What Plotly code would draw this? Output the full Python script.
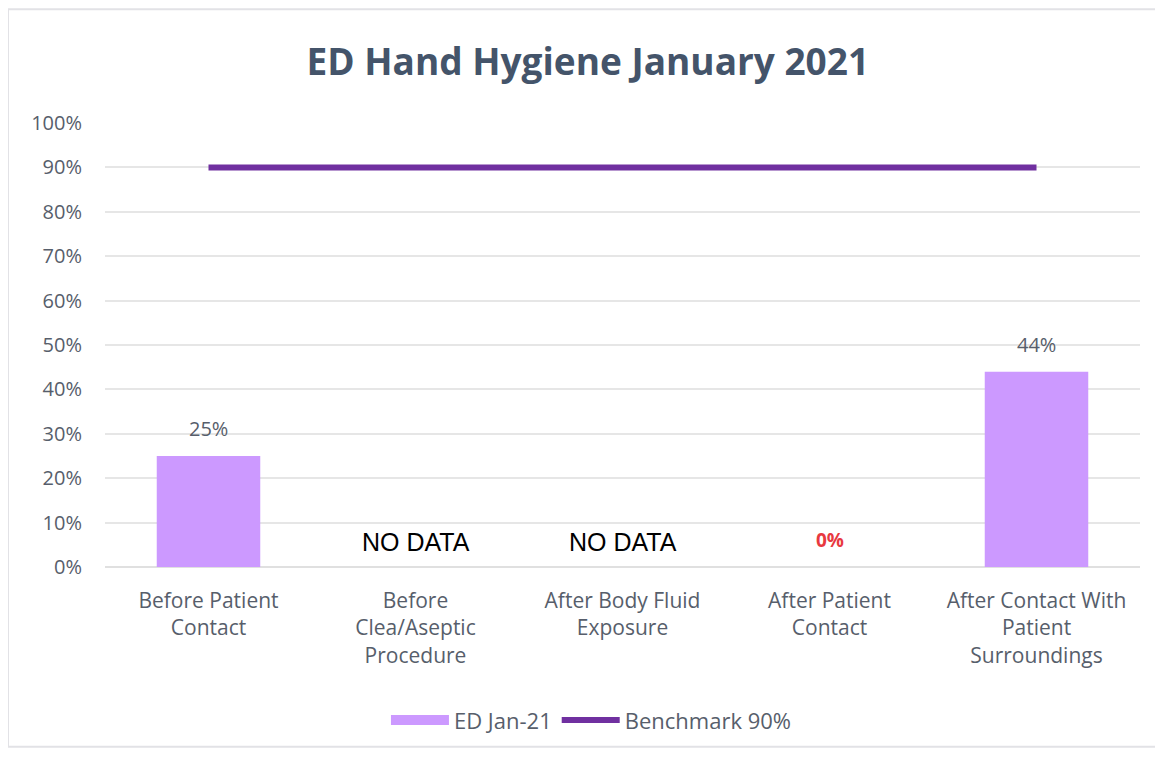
import plotly.graph_objects as go

categories = ["Before Patient<br>Contact", "Before<br>Clea/Aseptic<br>Procedure",
              "After Body Fluid<br>Exposure", "After Patient<br>Contact",
              "After Contact With<br>Patient<br>Surroundings"]
ed_values = [0.25, None, None, 0.0, 0.44]
benchmark = [0.90, 0.90, 0.90, 0.90, 0.90]
data_labels = ["25%", "NO DATA", "NO DATA", "0%", "44%"]
label_colors = ["#575E6B", "#000000", "#000000", "#E8393F", "#575E6B"]
y_ticks = [i / 10 for i in range(11)]
y_ticktext = [f"{i * 10}%" for i in range(11)]

x_idx = list(range(len(categories)))
BAR_COLOR = "#CC99FF"
LINE_COLOR = "#7030A0"
TXT = "#575E6B"

fig = go.Figure()
fig.add_trace(go.Bar(
    x=x_idx, y=ed_values, name="ED Jan-21",
    marker=dict(color=BAR_COLOR, line=dict(width=0)),
    width=0.5, showlegend=False,
))
# legend-only entry drawn as a wide swatch, like the original's rectangle key
fig.add_trace(go.Scatter(
    x=[None], y=[None], name="ED Jan-21", mode="lines",
    line=dict(color=BAR_COLOR, width=15),
))
fig.add_trace(go.Scatter(
    x=x_idx, y=benchmark, name="Benchmark 90%", mode="lines",
    line=dict(color=LINE_COLOR, width=6),
))

for i, (lab, col, v) in enumerate(zip(data_labels, label_colors, ed_values)):
    base = v if v is not None else 0
    if v is None:
        fnt = dict(family="Liberation Sans", size=25, color=col)
        ys = 9
    elif lab == "0%":
        fnt = dict(family="Open Sans", size=19, color=col, weight="bold")
        ys = 12
    else:
        fnt = dict(family="Open Sans", size=20, color=col)
        ys = 12
    fig.add_annotation(
        x=i, y=base, text=lab, showarrow=False, xref="x", yref="y",
        yanchor="bottom", yshift=ys, font=fnt,
    )

fig.update_layout(
    width=1155, height=750,
    margin=dict(l=97, r=23, t=115, b=191),
    paper_bgcolor="white", plot_bgcolor="white",
    title=dict(text="<b>ED Hand Hygiene January 2021</b>", x=0.502, xanchor="center",
               xref="container", y=0.928, yanchor="middle",
               font=dict(family="Open Sans", size=37, color="#44546A")),
    showlegend=True,
    legend=dict(orientation="h", x=0.47, xanchor="center", y=-0.345, yanchor="middle",
                font=dict(family="Open Sans", size=22, color=TXT),
                itemwidth=58, traceorder="normal", tracegroupgap=0),
    font=dict(family="Open Sans", color=TXT),
)
fig.update_xaxes(
    tickmode="array", tickvals=x_idx, ticktext=categories,
    range=[-0.5, len(categories) - 0.5],
    showgrid=False, showline=False, zeroline=False, ticks="",
    tickfont=dict(family="Open Sans", size=21, color=TXT), ticklabelstandoff=19,
)
fig.update_yaxes(
    range=[0, 1.0], tickmode="array", tickvals=y_ticks, ticktext=y_ticktext,
    showgrid=True, gridcolor="#E6E6E6", gridwidth=1.5, zeroline=True,
    zerolinecolor="#E0E0E0", zerolinewidth=1.5,
    tickfont=dict(family="Open Sans", size=20, color=TXT), ticklabelstandoff=22,
    showline=False,
)
fig.add_shape(type="rect", xref="paper", yref="paper", x0=-0.0937, x1=1.0174, y0=-0.405, y1=1.256,
              line=dict(color="#E2E2E6", width=2), fillcolor="rgba(0,0,0,0)", layer="below")

fig.write_html("out.html")
